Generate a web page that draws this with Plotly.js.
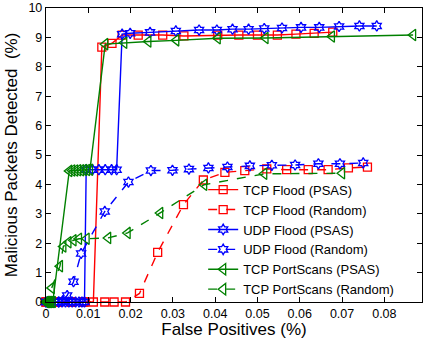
<!DOCTYPE html>
<html>
<head>
<meta charset="utf-8">
<script src="https://cdn.plot.ly/plotly-3.0.1.min.js"></script>
<style>html,body{margin:0;padding:0;background:#fff;}#chart{width:423px;height:339px;}</style>
</head>
<body>
<div id="chart"></div>
<script>
// TCP Flood (PSAS)
const tcpFloodPsasX = [0, 0.003, 0.006, 0.009, 0.0112, 0.0132, 0.0156, 0.018, 0.0218, 0.0276, 0.0326, 0.0406, 0.0456, 0.05, 0.0547, 0.0591, 0.0634, 0.0678];
const tcpFloodPsasY = [0, 0, 0, 0, 0, 8.67, 8.8, 9.08, 9.08, 9.08, 9.05, 9.08, 9.08, 9.08, 9.08, 9.11, 9.14, 9.18];
// TCP Flood (Random)
const tcpFloodRandX = [0, 0.003, 0.006, 0.009, 0.0139, 0.0161, 0.0188, 0.0221, 0.0264, 0.0325, 0.0372, 0.0423, 0.047, 0.0522, 0.0569, 0.062, 0.0667, 0.0715, 0.076];
const tcpFloodRandY = [0, 0, 0, 0, 0, 0, 0, 0.29, 1.69, 3.31, 4.15, 4.41, 4.47, 4.53, 4.5, 4.5, 4.5, 4.56, 4.59];
// UDP Flood (PSAS)
const udpFloodPsasX = [0, 0.003, 0.0038, 0.0046, 0.0054, 0.0062, 0.007, 0.0078, 0.0085, 0.0091, 0.0095, 0.011, 0.0125, 0.014, 0.0155, 0.0167, 0.018, 0.0199, 0.0246, 0.0307, 0.0362, 0.0404, 0.0441, 0.0479, 0.0516, 0.0558, 0.0603, 0.0646, 0.0693, 0.0741, 0.0782];
const udpFloodPsasY = [0, 0, 0, 0, 0, 0, 0, 0, 0, 0, 4.5, 4.5, 4.5, 4.5, 4.5, 4.5, 9.11, 9.14, 9.17, 9.22, 9.25, 9.25, 9.28, 9.28, 9.3, 9.32, 9.34, 9.34, 9.37, 9.39, 9.39];
// UDP Flood (Random)
const udpFloodRandX = [0, 0.001, 0.002, 0.003, 0.004, 0.005, 0.0065, 0.0083, 0.0139, 0.0195, 0.0248, 0.0299, 0.0338, 0.0384, 0.0429, 0.0482, 0.0534, 0.0589, 0.0644, 0.0695, 0.075];
const udpFloodRandY = [0, 0, 0, 0, 0.05, 0.22, 0.69, 1.65, 3.08, 4.08, 4.47, 4.48, 4.52, 4.56, 4.59, 4.63, 4.65, 4.66, 4.7, 4.7, 4.73];
// TCP PortScans (PSAS)
const portPsasX = [0, 0.0004, 0.0008, 0.0012, 0.0016, 0.0055, 0.0062, 0.0069, 0.0076, 0.0083, 0.009, 0.0097, 0.0104, 0.014, 0.0185, 0.0242, 0.0308, 0.0406, 0.0519, 0.0676, 0.0868];
const portPsasY = [0, 0, 0, 0, 0, 4.46, 4.47, 4.47, 4.48, 4.48, 4.49, 4.49, 4.5, 8.77, 8.82, 8.86, 8.9, 8.97, 8.98, 9.03, 9.08];
// TCP PortScans (Random)
const portRandX = [0, 0.0003, 0.0006, 0.0009, 0.00135, 0.0033, 0.0041, 0.0053, 0.0065, 0.0078, 0.0096, 0.0147, 0.0193, 0.027, 0.0374, 0.0516, 0.07];
const portRandY = [0, 0, 0, 0, 0.48, 1.22, 1.89, 2.03, 2.1, 2.15, 2.15, 2.18, 2.35, 3.03, 3.99, 4.36, 4.38];

const seriesNames = ["TCP Flood (PSAS)", "TCP Flood (Random)", "UDP Flood (PSAS)", "UDP Flood (Random)", "TCP PortScans (PSAS)", "TCP PortScans (Random)"];
const xTickVals = [0, 0.01, 0.02, 0.03, 0.04, 0.05, 0.06, 0.07, 0.08];
const xTickText = ["0", "0.01", "0.02", "0.03", "0.04", "0.05", "0.06", "0.07", "0.08"];
const yTickVals = [0, 1, 2, 3, 4, 5, 6, 7, 8, 9, 10];

const RED = "#ff0000", BLUE = "#0000ff", GREEN = "#008000";
function tr(x, y, name, color, dash, symbol, size) {
  return {
    x: x, y: y, name: name, type: "scatter", mode: "lines+markers",
    line: {color: color, width: 1.4, dash: dash},
    marker: {symbol: symbol, size: size, color: color, line: {color: color, width: 1.3}},
    cliponaxis: false
  };
}
const data = [
  tr(tcpFloodPsasX, tcpFloodPsasY, seriesNames[0], RED, "solid", "square-open", 8),
  tr(tcpFloodRandX, tcpFloodRandY, seriesNames[1], RED, "dash", "square-open", 8),
  tr(udpFloodPsasX, udpFloodPsasY, seriesNames[2], BLUE, "solid", "hexagram-open", 8),
  tr(udpFloodRandX, udpFloodRandY, seriesNames[3], BLUE, "dash", "hexagram-open", 8),
  tr(portPsasX, portPsasY, seriesNames[4], GREEN, "solid", "triangle-left-open", 10),
  tr(portRandX, portRandY, seriesNames[5], GREEN, "dash", "triangle-left-open", 10)
];
const FONT = "Liberation Sans, Arial, Helvetica, sans-serif";
const layout = {
  width: 423, height: 339,
  margin: {l: 46, r: 1, t: 8, b: 36.5, pad: 0},
  paper_bgcolor: "#fff", plot_bgcolor: "#fff",
  font: {family: FONT, size: 12.5, color: "#000"},
  showlegend: true,
  legend: {x: 0.418, y: 0.433, xanchor: "left", yanchor: "top", bgcolor: "rgba(255,255,255,0)", borderwidth: 0, font: {size: 13, family: FONT, color: "#000"}, tracegroupgap: 0},
  xaxis: {
    range: [0, 0.0889], tickvals: xTickVals, ticktext: xTickText,
    ticks: "inside", ticklen: 5, tickwidth: 1, tickcolor: "#000",
    showline: true, linecolor: "#000", linewidth: 1.2, mirror: "ticks",
    showgrid: false, zeroline: false,
    tickfont: {size: 12.5, family: FONT, color: "#000"},
    title: {text: "False Positives (%)", font: {size: 17, family: FONT, color: "#000"}, standoff: 3}
  },
  yaxis: {
    range: [0, 10], tickvals: yTickVals,
    ticks: "inside", ticklen: 5, tickwidth: 1, tickcolor: "#000",
    showline: true, linecolor: "#000", linewidth: 1.2, mirror: "ticks",
    showgrid: false, zeroline: false,
    tickfont: {size: 12.5, family: FONT, color: "#000"},
    title: {text: "Malicious Packets Detected\u00a0 (%)", font: {size: 17, family: FONT, color: "#000"}, standoff: 6}
  }
};
Plotly.newPlot("chart", data, layout, {displayModeBar: false, staticPlot: true});
</script>
</body>
</html>
